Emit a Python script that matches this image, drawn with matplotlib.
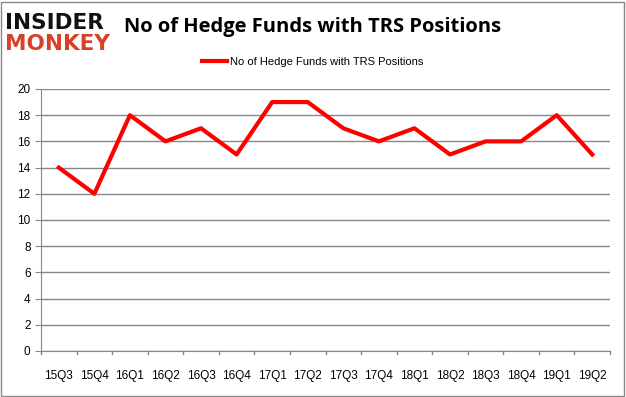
import matplotlib
matplotlib.use("Agg")
import matplotlib.pyplot as plt
from matplotlib.patches import Rectangle

# data
quarters = ["15Q3", "15Q4", "16Q1", "16Q2", "16Q3", "16Q4", "17Q1", "17Q2",
            "17Q3", "17Q4", "18Q1", "18Q2", "18Q3", "18Q4", "19Q1", "19Q2"]
num_funds = [14, 12, 18, 16, 17, 15, 19, 19, 17, 16, 17, 15, 16, 16, 18, 15]
y_ticks = list(range(0, 21, 2))

plt.rcParams['font.family'] = ['Liberation Sans', 'DejaVu Sans']

fig = plt.figure(figsize=(6.26, 3.97), dpi=100)
ax = fig.add_axes([0.0655, 0.1159, 0.909, 0.66])

x = list(range(len(quarters)))
line, = ax.plot(x, num_funds, color="#ff0000", linewidth=3,
                label="No of Hedge Funds with TRS Positions")

ax.set_xlim(-0.5, len(quarters) - 0.5)
ax.set_ylim(0, 20)
ax.set_yticks(y_ticks)
ax.set_xticks(x)
ax.set_xticklabels(quarters, fontsize=8.5)
ax.tick_params(axis="x", length=0, pad=14)
ax.tick_params(axis="y", labelsize=8.5, length=4, color="#888888")
ax.yaxis.grid(True, color="#888888", linewidth=1)
ax.set_axisbelow(True)

# category separator ticks on the x axis
for b in [i - 0.5 for i in range(len(quarters) + 1)]:
    ax.plot([b, b], [0, -0.25], color="#888888", linewidth=1, clip_on=False)

for side in ["top", "right"]:
    ax.spines[side].set_visible(False)
ax.spines["left"].set_color("#888888")
ax.spines["bottom"].set_color("#888888")

fig.text(0.5, 0.932, "No of Hedge Funds with TRS Positions", ha="center", va="center",
         fontsize=14.5, fontweight="bold", family=["Open Sans", "DejaVu Sans"])

fig.legend(handles=[line], loc="center", bbox_to_anchor=(0.5, 0.844), frameon=False,
           fontsize=8, handlelength=2.2, handletextpad=0.3)

# logo
fig.text(0.008, 0.943, "INSIDER", fontsize=15.5, fontweight="heavy", color="#111111",
         va="center", family=["DejaVu Sans"])
fig.text(0.008, 0.89, "MONKEY", fontsize=15.5, fontweight="heavy", color="#d9402a",
         va="center", family=["DejaVu Sans"])

# outer border
fig.patches.append(Rectangle((0.002, 0.003), 0.995, 0.993, transform=fig.transFigure,
                             fill=False, edgecolor="#888888", linewidth=1))

fig.savefig("out.png", dpi=100)
